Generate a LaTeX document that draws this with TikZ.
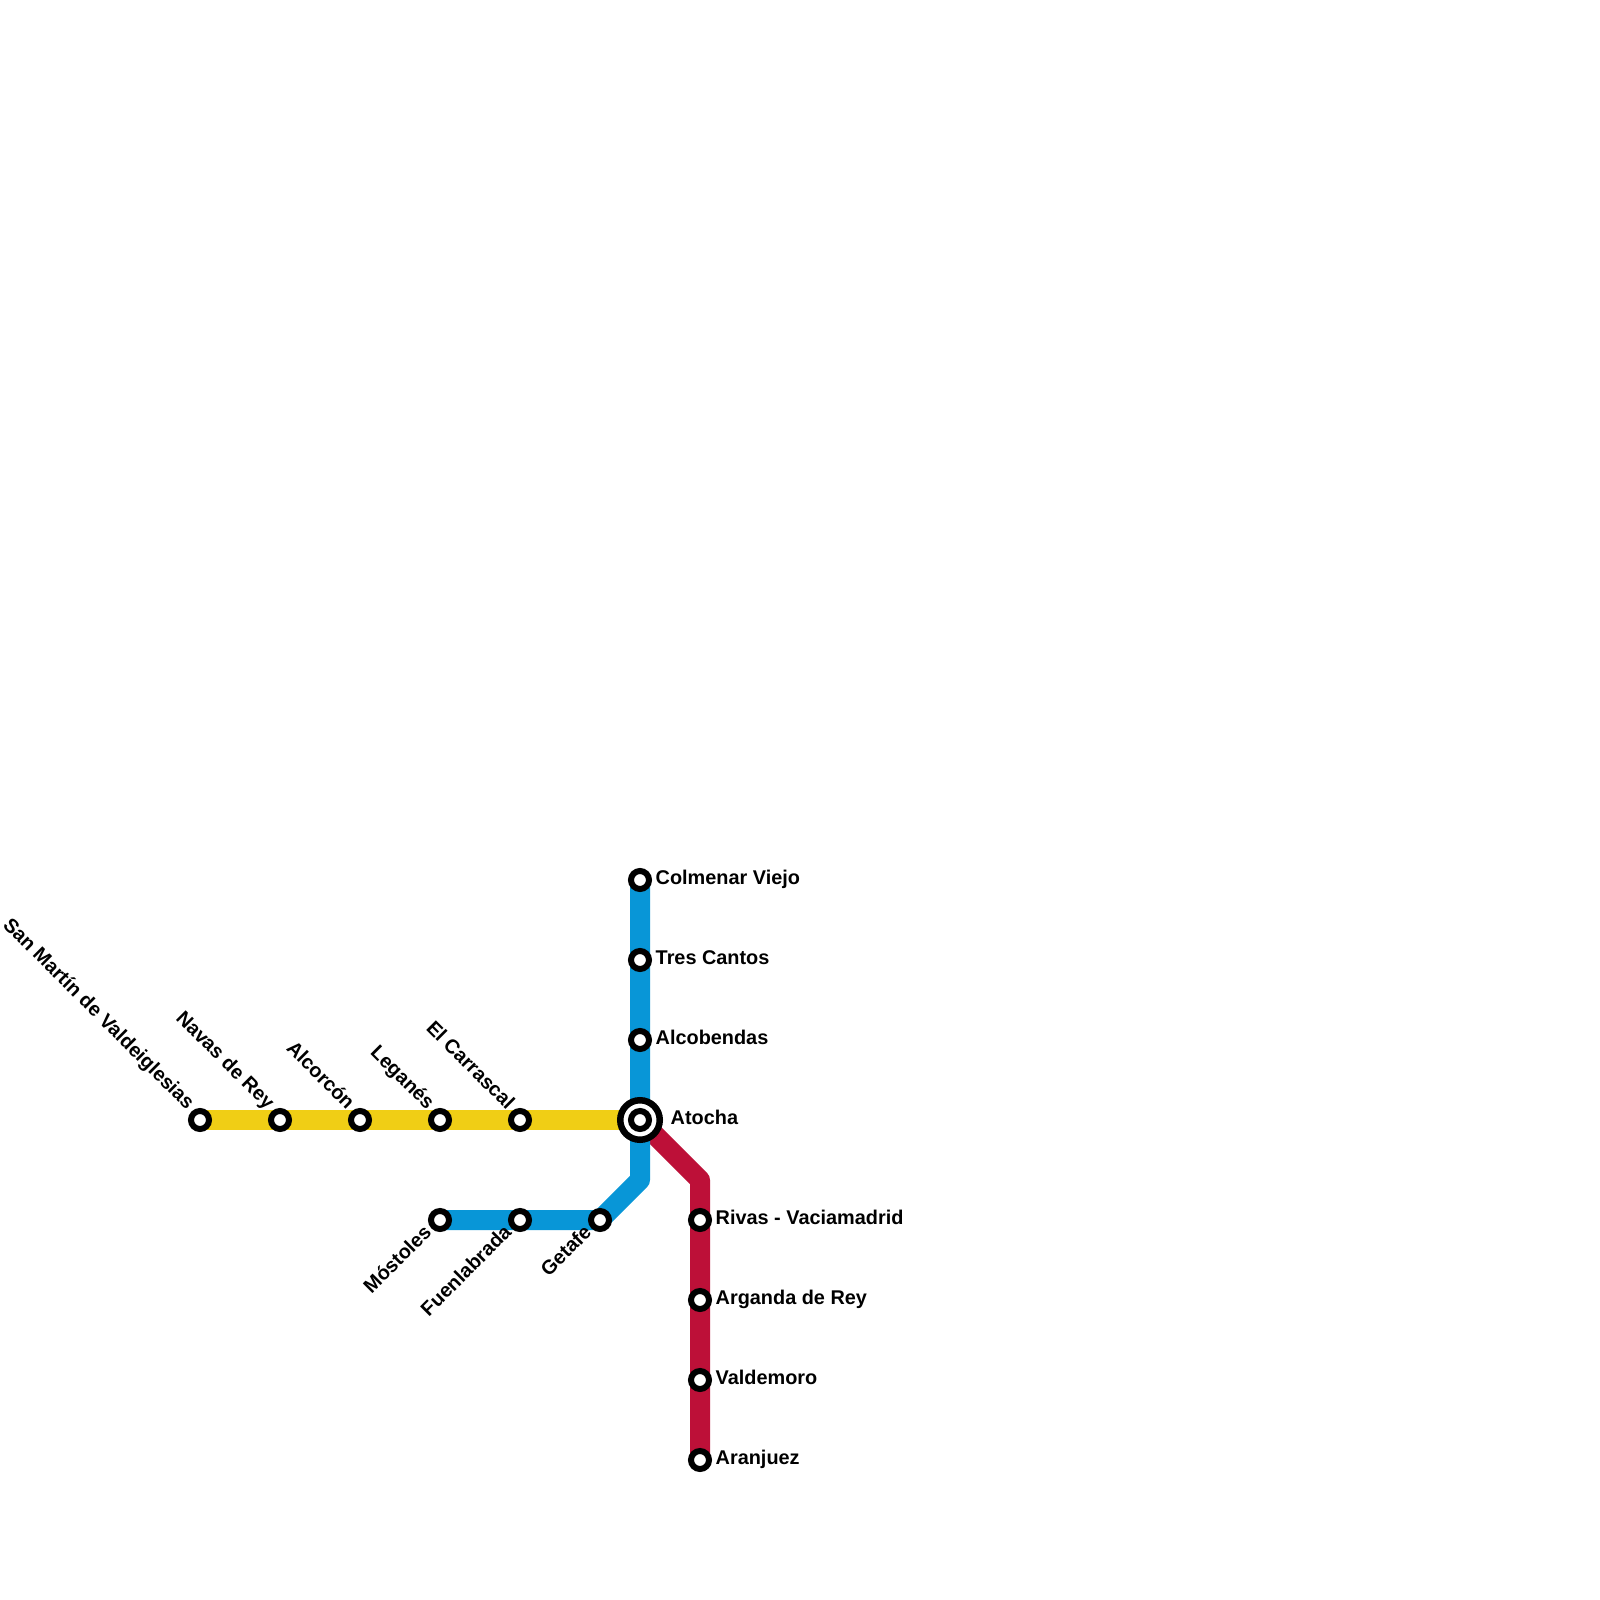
\documentclass[tikz,border=0pt]{standalone}
\usepackage{fontspec}
\setmainfont{Liberation Sans}
\usetikzlibrary{backgrounds}
\definecolor{lineyellow}{HTML}{F0CE15}
\definecolor{lineblue}{HTML}{0896D7}
\definecolor{linered}{HTML}{BD1038}

\begin{document}
\begin{tikzpicture}[
    x=0.01cm, y=-0.01cm,
    stn/.style={circle, draw=black, fill=white, line width=0.06cm,
                inner sep=0pt, minimum size=0.18cm},
    hub/.style={circle, draw=black, fill=white, line width=0.065cm,
                inner sep=0pt, minimum size=0.395cm},
    lbl/.style={font=\bfseries\fontsize{5.65pt}{6pt}\selectfont, text=black,
                inner sep=0pt},
    rlbl/.style={lbl, anchor=base west},
    ulbl/.style={lbl, anchor=base east, rotate=-45},
    dlbl/.style={lbl, anchor=base east, rotate=45},
    metro/.style={line width=0.2cm, line join=round},
  ]
  \useasboundingbox (0,0) rectangle (1600,1600);
  % interchange
  \node[hub] (hubatocha) at (640,1120) {};
  \node[stn] (atocha) at (640,1120) {};
  \node[rlbl] (latocha) at (670,1124) {Atocha};
  % yellow line
  \node[stn] (sanmartin) at (200,1120) {};
  \node[stn] (navas) at (280,1120) {};
  \node[stn] (alcorcon) at (360,1120) {};
  \node[stn] (leganes) at (440,1120) {};
  \node[stn] (carrascal) at (520,1120) {};
  \node[ulbl] (lsanmartin) at (187,1111) {San Martín de Valdeiglesias};
  \node[ulbl] (lnavas) at (267,1111) {Navas de Rey};
  \node[ulbl] (lalcorcon) at (347,1111) {Alcorcón};
  \node[ulbl] (lleganes) at (427,1111) {Leganés};
  \node[ulbl] (lcarrascal) at (507,1111) {El Carrascal};
  % blue line
  \node[stn] (colmenar) at (640,880) {};
  \node[stn] (trescantos) at (640,960) {};
  \node[stn] (alcobendas) at (640,1040) {};
  \node[stn] (getafe) at (600,1220) {};
  \node[stn] (fuenlabrada) at (520,1220) {};
  \node[stn] (mostoles) at (440,1220) {};
  \coordinate (bluebend) at (640,1180);
  \node[rlbl] (lcolmenar) at (655,884.5) {Colmenar Viejo};
  \node[rlbl] (ltrescantos) at (655,964.5) {Tres Cantos};
  \node[rlbl] (lalcobendas) at (655,1044.5) {Alcobendas};
  \node[dlbl] (lgetafe) at (593,1233) {Getafe};
  \node[dlbl] (lfuenlabrada) at (513,1233) {Fuenlabrada};
  \node[dlbl] (lmostoles) at (433,1233) {Móstoles};
  % red line
  \node[stn] (rivas) at (700,1220) {};
  \node[stn] (arganda) at (700,1300) {};
  \node[stn] (valdemoro) at (700,1380) {};
  \node[stn] (aranjuez) at (700,1460) {};
  \coordinate (redbend) at (700,1180);
  \node[rlbl] (lrivas) at (715,1224.5) {Rivas - Vaciamadrid};
  \node[rlbl] (larganda) at (715,1304.5) {Arganda de Rey};
  \node[rlbl] (lvaldemoro) at (715,1384.5) {Valdemoro};
  \node[rlbl] (laranjuez) at (715,1464.5) {Aranjuez};
  \begin{scope}[on background layer]
    \fill[white] (0,0) rectangle (1600,1600);
    \draw[metro, linered] (atocha.center) -- (redbend) -- (aranjuez.center);
    \draw[metro, lineblue] (colmenar.center) -- (bluebend) -- (getafe.center) -- (mostoles.center);
    \draw[metro, lineyellow] (sanmartin.center) -- (atocha.center);
  \end{scope}
\end{tikzpicture}
\end{document}
